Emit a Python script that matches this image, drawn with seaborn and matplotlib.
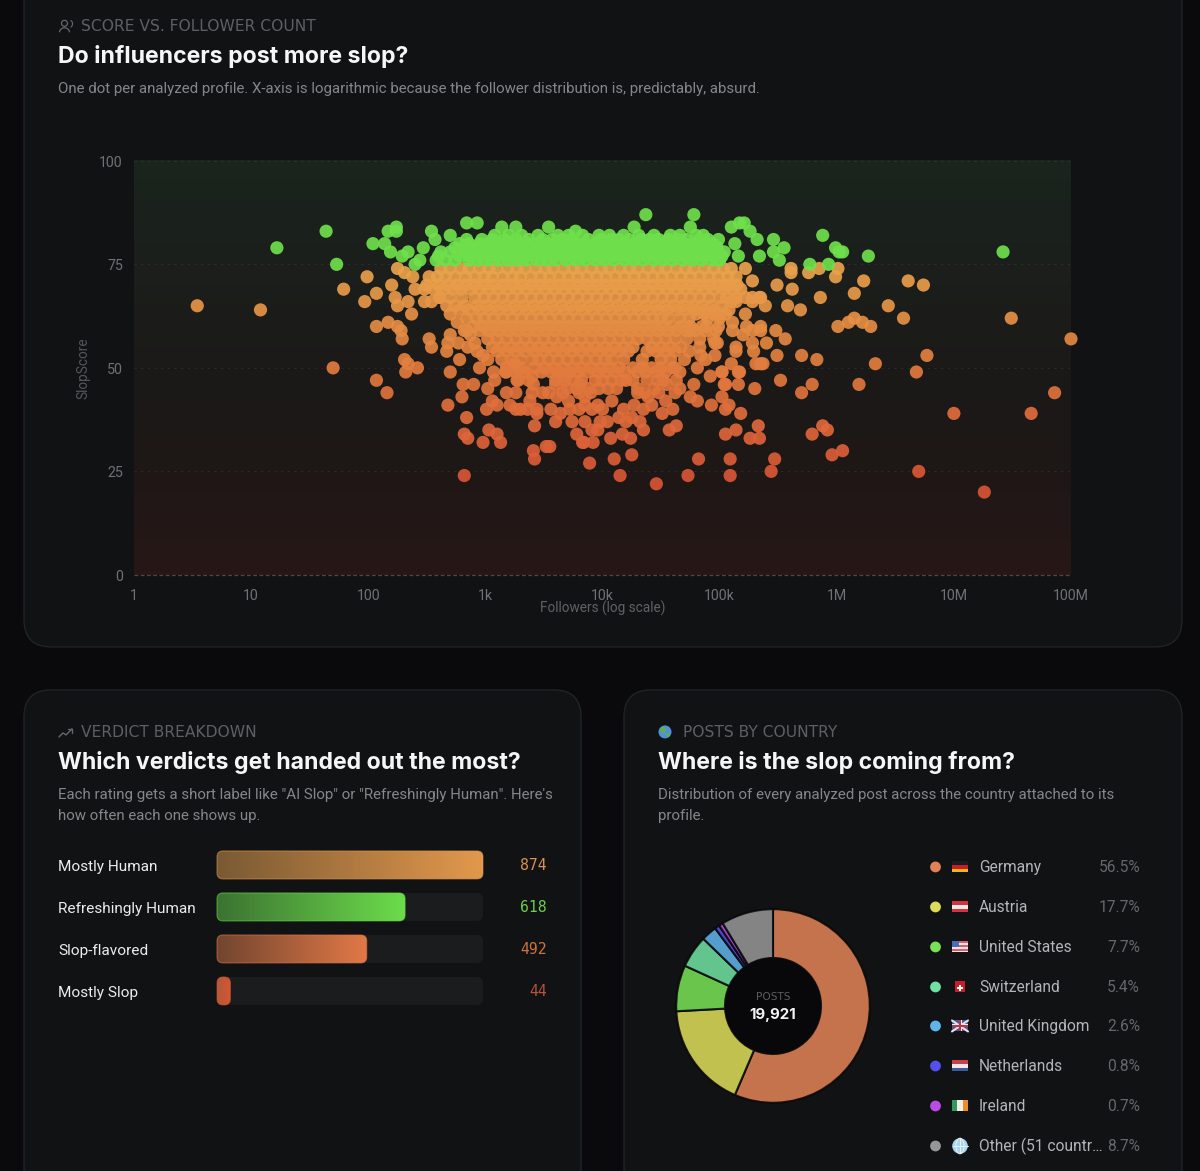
import numpy as np
import pandas as pd
import matplotlib
matplotlib.use("Agg")
import matplotlib.pyplot as plt
import seaborn as sns
from matplotlib.colors import LinearSegmentedColormap, to_rgb
from matplotlib.patches import Arc, Circle, FancyBboxPatch, Rectangle

# ---- scatter values: log10(followers) per score row ----
row_82 = [3.08, 3.20, 3.31, 3.45, 3.62, 3.71, 3.83, 3.97, 4.06, 4.18, 4.31, 4.44, 4.58, 4.66, 4.80]
row_81 = [2.84, 2.97, 3.06, 3.16, 3.26, 3.37, 3.49, 3.57, 3.66, 3.74, 3.88, 3.99, 4.08, 4.14, 4.23, 4.33, 4.40, 4.48,
          4.56, 4.64, 4.72, 4.83, 4.90]
row_80 = [2.78, 2.86, 2.95, 3.03, 3.12, 3.19, 3.28, 3.36, 3.44, 3.53, 3.61, 3.69, 3.78, 3.85, 3.94, 4.02, 4.11, 4.19,
          4.27, 4.36, 4.44, 4.52, 4.61, 4.69, 4.77, 4.86, 4.94]
row_79 = [2.74, 2.82, 2.90, 2.99, 3.07, 3.15, 3.23, 3.32, 3.40, 3.48, 3.57, 3.65, 3.73, 3.81, 3.90, 3.98, 4.06, 4.15,
          4.23, 4.32, 4.40, 4.48, 4.56, 4.65, 4.73, 4.81, 4.90, 4.98]
row_78 = [2.62, 2.70, 2.82, 2.90, 2.98, 3.06, 3.15, 3.23, 3.31, 3.40, 3.48, 3.56, 3.65, 3.73, 3.81, 3.90, 3.98, 4.06,
          4.15, 4.23, 4.31, 4.40, 4.48, 4.56, 4.65, 4.73, 4.81, 4.90, 4.98, 5.04]
row_77 = [2.60, 2.78, 2.86, 2.94, 3.02, 3.10, 3.19, 3.27, 3.35, 3.44, 3.52, 3.60, 3.69, 3.77, 3.85, 3.94, 4.02, 4.10,
          4.19, 4.27, 4.35, 4.44, 4.52, 4.60, 4.69, 4.77, 4.85, 4.94, 5.02]
row_76 = [2.58, 2.66, 2.74, 2.86, 2.94, 3.02, 3.11, 3.19, 3.27, 3.35, 3.44, 3.52, 3.60, 3.69, 3.77, 3.85, 3.94, 4.02,
          4.10, 4.19, 4.27, 4.35, 4.44, 4.52, 4.60, 4.69, 4.77, 4.85, 4.94, 5.00]
row_74 = [2.62, 2.70, 2.79, 2.86, 2.95, 3.03, 3.10, 3.19, 3.27, 3.34, 3.43, 3.51, 3.58, 3.67, 3.75, 3.82, 3.91, 3.99,
          4.06, 4.15, 4.23, 4.30, 4.39, 4.47, 4.54, 4.63, 4.71, 4.78, 4.87, 4.95, 5.03, 5.10]
row_72 = [2.52, 2.59, 2.66, 2.74, 2.83, 2.91, 2.99, 3.06, 3.15, 3.23, 3.30, 3.39, 3.47, 3.55, 3.63, 3.71, 3.79, 3.87,
          3.95, 4.03, 4.11, 4.19, 4.27, 4.35, 4.43, 4.51, 4.59, 4.67, 4.75, 4.83, 4.91, 4.99, 5.07, 5.14]
row_70 = [2.50, 2.60, 2.68, 2.76, 2.83, 2.91, 2.99, 3.07, 3.15, 3.23, 3.31, 3.39, 3.47, 3.55, 3.63, 3.71, 3.79, 3.87,
          3.95, 4.03, 4.11, 4.19, 4.27, 4.35, 4.43, 4.51, 4.59, 4.67, 4.75, 4.83, 4.91, 4.99, 5.08, 5.15]
row_69 = [2.48, 2.56, 2.64, 2.72, 2.79, 2.87, 2.95, 3.03, 3.11, 3.19, 3.27, 3.35, 3.43, 3.51, 3.59, 3.67, 3.75, 3.83,
          3.91, 3.99, 4.07, 4.15, 4.23, 4.31, 4.39, 4.47, 4.55, 4.63, 4.71, 4.79, 4.87, 4.95, 5.04, 5.11, 5.18]
row_67 = [2.61, 2.70, 2.80, 2.91, 2.99, 3.07, 3.15, 3.23, 3.31, 3.39, 3.47, 3.55, 3.63, 3.71, 3.79, 3.87, 3.95, 4.03,
          4.11, 4.19, 4.27, 4.35, 4.43, 4.51, 4.59, 4.67, 4.75, 4.83, 4.91, 5.00, 5.06, 5.14, 5.28]
row_65 = [2.74, 2.83, 2.93, 3.01, 3.09, 3.17, 3.25, 3.33, 3.41, 3.49, 3.57, 3.65, 3.73, 3.81, 3.89, 3.97, 4.05, 4.13,
          4.21, 4.29, 4.37, 4.45, 4.53, 4.61, 4.69, 4.77, 4.85, 4.93, 5.02]
row_64 = [2.78, 2.86, 2.95, 3.03, 3.11, 3.19, 3.27, 3.35, 3.43, 3.51, 3.59, 3.67, 3.75, 3.83, 3.91, 3.99, 4.07, 4.15,
          4.23, 4.31, 4.39, 4.47, 4.55, 4.63, 4.70, 4.78, 4.87, 4.96, 5.08]
row_62 = [2.84, 2.92, 2.99, 3.07, 3.15, 3.23, 3.31, 3.39, 3.47, 3.55, 3.63, 3.71, 3.79, 3.87, 3.95, 4.03, 4.11, 4.19,
          4.27, 4.35, 4.43, 4.50, 4.56, 4.66, 4.74, 4.90, 5.00]
row_60 = [2.90, 2.99, 3.07, 3.15, 3.23, 3.31, 3.39, 3.47, 3.55, 3.63, 3.71, 3.79, 3.87, 3.95, 4.03, 4.11, 4.19, 4.27,
          4.35, 4.43, 4.51, 4.59, 4.67, 4.75, 4.85]
row_59 = [2.95, 3.03, 3.11, 3.19, 3.27, 3.35, 3.43, 3.51, 3.59, 3.67, 3.75, 3.83, 3.91, 3.99, 4.07, 4.15, 4.23, 4.31,
          4.39, 4.47, 4.55, 4.63, 4.71, 4.79, 4.88, 4.97]
row_57 = [3.02, 3.10, 3.18, 3.26, 3.34, 3.42, 3.50, 3.58, 3.66, 3.74, 3.82, 3.90, 3.98, 4.06, 4.14, 4.22, 4.30, 4.38,
          4.46, 4.54, 4.62, 4.72, 4.83]
row_55 = [3.06, 3.14, 3.22, 3.30, 3.38, 3.46, 3.54, 3.62, 3.70, 3.78, 3.86, 3.94, 4.02, 4.10, 4.18, 4.26, 4.42, 4.50,
          4.58, 4.67]
row_54 = [3.10, 3.18, 3.26, 3.34, 3.42, 3.50, 3.59, 3.66, 3.74, 3.82, 3.90, 3.98, 4.06, 4.14, 4.22, 4.38, 4.46, 4.54,
          4.62, 4.74]
row_52 = [3.14, 3.22, 3.30, 3.40, 3.46, 3.54, 3.62, 3.70, 3.78, 3.86, 3.94, 4.02, 4.08, 4.18, 4.34, 4.50, 4.58, 4.70]
row_50 = [3.18, 3.26, 3.32, 3.42, 3.50, 3.58, 3.66, 3.74, 3.82, 3.90, 3.99, 4.07, 4.14, 4.26, 4.34, 4.42, 4.50, 4.62]
row_49 = [3.18, 3.26, 3.34, 3.48, 3.56, 3.63, 3.72, 3.80, 3.88, 3.96, 4.03, 4.11, 4.19, 4.30, 4.37, 4.46, 4.54, 4.66]
row_47 = [3.28, 3.37, 3.60, 3.68, 3.75, 3.82, 3.94, 4.00, 4.08, 4.16, 4.26, 4.38, 4.47, 4.52, 4.63]
row_45 = [3.78, 3.88, 3.97, 4.05, 4.12, 4.30, 4.44]
row_44 = [3.26, 3.40, 3.54, 3.66, 3.80, 3.90, 4.36, 4.48, 4.62]
row_40 = [3.26, 3.30, 3.44, 3.56, 3.80, 4.00, 4.18, 4.35, 4.60]
row_37 = [3.60, 3.85, 4.04, 4.20, 4.32]

score_rows = {82: row_82, 81: row_81, 80: row_80, 79: row_79, 78: row_78, 77: row_77, 76: row_76, 74: row_74,
              72: row_72, 70: row_70, 69: row_69, 67: row_67, 65: row_65, 64: row_64, 62: row_62, 60: row_60,
              59: row_59, 57: row_57, 55: row_55, 54: row_54, 52: row_52, 50: row_50, 49: row_49, 47: row_47,
              45: row_45, 44: row_44, 40: row_40, 37: row_37}

# single dots around the dense part: (log10 followers, score)
green_dots = [(1.22, 79), (1.64, 83), (1.73, 75), (2.04, 80), (2.14, 80), (2.17, 83), (2.24, 84), (2.24, 83),
              (2.19, 78), (2.29, 77), (2.34, 78), (2.47, 79), (2.44, 76), (2.40, 75), (2.54, 83), (2.57, 81),
              (2.70, 82), (2.84, 85), (2.93, 85), (3.14, 84), (3.26, 84), (3.54, 84), (3.77, 83), (4.37, 87),
              (4.78, 87), (4.27, 84), (4.75, 84), (4.86, 82), (4.99, 81), (5.10, 84), (5.17, 85), (5.21, 85),
              (5.26, 83), (5.32, 81), (5.13, 80), (5.16, 77), (5.34, 77), (5.46, 81), (5.46, 78), (5.55, 79),
              (5.51, 76), (5.77, 75), (5.93, 75), (5.88, 82), (5.99, 79), (6.05, 78), (6.02, 78), (6.27, 77),
              (7.42, 78)]
warm_dots = [(0.54, 65), (1.08, 64), (1.79, 69), (1.99, 72), (2.20, 70), (2.07, 68), (1.97, 66), (2.23, 67),
             (2.34, 66), (2.25, 65), (2.37, 63), (2.25, 74), (2.31, 73), (2.38, 72), (2.40, 69), (2.48, 66),
             (2.54, 66), (2.61, 67), (2.07, 60), (2.17, 61), (2.25, 60), (2.28, 59), (2.29, 57), (2.52, 57),
             (2.54, 55), (2.70, 58), (2.67, 54), (2.68, 56), (2.78, 52), (2.70, 49), (1.70, 50), (2.31, 52),
             (2.34, 51), (2.42, 50), (2.32, 49), (2.07, 47), (2.16, 44), (2.68, 41), (2.81, 46), (2.90, 46),
             (2.80, 43), (3.02, 45), (2.84, 38), (2.82, 34), (2.85, 33), (3.03, 35), (3.10, 34), (3.13, 32),
             (2.98, 32), (2.82, 24), (3.41, 30), (3.42, 28), (3.52, 31), (3.89, 27), (3.42, 36), (3.44, 39),
             (3.78, 34), (3.74, 37), (3.83, 32), (3.92, 32), (3.01, 40), (3.06, 42), (3.10, 41), (3.18, 44),
             (3.21, 41), (3.36, 40), (3.38, 42), (3.49, 44), (3.61, 43), (3.71, 42), (3.72, 40), (3.64, 39),
             (3.85, 43), (3.91, 40), (3.96, 35), (5.22, 74), (5.28, 71), (5.49, 70), (5.61, 74), (5.61, 73),
             (5.76, 73), (5.85, 74), (6.01, 74), (5.99, 72), (5.62, 69), (5.86, 67), (6.23, 71), (6.15, 68),
             (6.61, 71), (6.74, 70), (6.44, 65), (6.57, 62), (7.49, 62), (8.00, 57), (5.58, 65), (5.69, 64),
             (5.39, 65), (5.34, 67), (5.22, 63), (6.01, 60), (6.10, 61), (6.15, 62), (6.22, 61), (6.29, 60),
             (5.48, 59), (5.56, 57), (5.49, 53), (5.70, 53), (5.83, 52), (5.35, 60), (5.40, 56), (5.23, 60),
             (6.33, 51), (6.77, 53), (6.68, 49), (6.19, 46), (5.79, 46), (5.70, 44), (5.52, 47), (5.30, 45),
             (7.86, 44), (7.66, 39), (7.00, 39), (5.88, 36), (5.92, 35), (5.79, 34), (6.05, 30), (5.96, 29),
             (5.33, 36), (5.26, 33), (5.34, 33), (5.05, 34), (5.14, 35), (5.18, 39), (5.47, 28), (5.44, 25),
             (5.09, 28), (5.09, 24), (4.82, 28), (4.73, 24), (4.46, 22), (4.15, 24), (4.10, 28), (4.25, 29),
             (6.70, 25), (7.26, 20), (4.63, 36), (4.57, 35), (4.35, 35), (4.24, 33), (4.17, 34), (4.07, 33),
             (3.84, 32), (3.98, 37), (3.91, 35), (4.81, 42), (4.93, 41), (5.02, 43), (5.08, 41), (5.05, 40),
             (5.16, 46), (5.04, 46), (5.16, 49), (5.02, 49), (5.10, 51), (4.51, 39), (4.25, 38), (4.14, 38),
             (4.54, 42), (4.42, 41), (4.39, 43), (4.30, 44), (4.27, 41), (4.08, 42), (3.96, 41), (3.85, 41),
             (4.55, 46), (4.66, 45), (4.78, 46), (4.75, 43), (4.81, 50), (4.96, 53), (5.14, 55), (5.29, 54),
             (5.35, 51), (4.96, 56), (5.11, 59), (3.55, 31), (3.67, 48), (4.20, 47), (4.60, 50)]
# the blobs on the right and left flanks of the cloud
right_blob = [(4.87, 63), (4.95, 63), (5.05, 63), (5.11, 61), (4.89, 60), (4.99, 60), (4.95, 57), (4.98, 56),
              (5.14, 54), (5.28, 56), (5.31, 51), (5.37, 51), (5.35, 59), (5.28, 59), (5.02, 49), (5.17, 49),
              (4.84, 53), (4.83, 55), (4.75, 59), (4.80, 63), (4.99, 63), (5.05, 70), (5.14, 66), (5.22, 67),
              (5.28, 66), (5.35, 67), (5.10, 66), (5.05, 46), (4.88, 52), (4.92, 48), (5.20, 58)]
left_blob = [(2.85, 55), (2.93, 54), (2.95, 50), (3.07, 49), (3.17, 49), (3.25, 51), (2.98, 53), (2.77, 56),
             (2.91, 56), (3.27, 47), (3.40, 48), (3.41, 46), (3.60, 46), (3.70, 45), (3.81, 46), (2.67, 65),
             (2.70, 63), (2.76, 61), (2.82, 59), (2.87, 58), (2.84, 59), (3.02, 52), (3.08, 47)]

# ---- bars ----
verdict_names = ["Mostly Human", "Refreshingly Human", "Slop-flavored", "Mostly Slop"]
verdict_counts = [874, 618, 492, 44]
verdict_left = ["#7a5a34", "#3c7332", "#734630", "#b45a37"]
verdict_right = ["#e2984c", "#6cdc4b", "#e17846", "#d75532"]
verdict_text = ["#d9934c", "#6bd14a", "#d07240", "#b5533a"]

# ---- donut ----
country_names = ["Germany", "Austria", "United States", "Switzerland", "United Kingdom", "Netherlands", "Ireland",
                 "Other (51 countr\u2026"]
country_share = [56.5, 17.7, 7.7, 5.4, 2.6, 0.8, 0.7, 8.7]
country_colors = ["#e08255", "#dcdc5a", "#78e155", "#6ee1a0", "#5fb4eb", "#5550eb", "#b94be6", "#969696"]
total_posts = "19,921"

# ---- chart text ----
x_ticks = [1, 10, 100, 1e3, 1e4, 1e5, 1e6, 1e7, 1e8]
x_labels = ["1", "10", "100", "1k", "10k", "100k", "1M", "10M", "100M"]
y_ticks = [0, 25, 50, 75, 100]

PAGE = "#0a0a0c"
CARD = "#111214"
BORDER = "#222326"
W, H = 1200, 1171
HEAD = ["Inter", "DejaVu Sans"]
BODY = ["Roboto", "DejaVu Sans"]

sns.set_theme(style="white")
plt.rcParams["font.family"] = BODY
plt.rcParams["axes.unicode_minus"] = False

fig = plt.figure(figsize=(W / 100, 11.712), dpi=100, facecolor=PAGE)


def axes_px(x0, y0, x1, y1, **kw):
    # axes from picture pixels, y counted from the top
    return fig.add_axes([x0 / W, 1 - y1 / H, (x1 - x0) / W, (y1 - y0) / H], **kw)


bg = axes_px(0, 0, W, H)
bg.set_xlim(0, W)
bg.set_ylim(H, 0)
bg.axis("off")
bg.set_autoscale_on(False)


def card(x0, y0, x1, y1):
    bg.add_patch(FancyBboxPatch((x0, y0), x1 - x0, y1 - y0, boxstyle="round,pad=0,rounding_size=27",
                                fc=CARD, ec=BORDER, lw=1))


def gradient_box(x0, y0, x1, y1, left, right, radius, edge=None):
    n = 64
    ramp = np.linspace(0, 1, n)[:, None]
    img = (1 - ramp) * np.array(to_rgb(left)) + ramp * np.array(to_rgb(right))
    im = bg.imshow(img[None, :, :], extent=(x0, x1, y1, y0), aspect="auto", zorder=3, interpolation="bilinear")
    clip = FancyBboxPatch((x0, y0), x1 - x0, y1 - y0, boxstyle=f"round,pad=0,rounding_size={radius}",
                          fc="none", ec=edge if edge else "none", lw=0.8, zorder=4, alpha=0.55)
    bg.add_patch(clip)
    im.set_clip_path(clip)


def heading(x, y, icon_gap, eyebrow, title, lines, title_size):
    bg.text(x + icon_gap, y + 0.5, eyebrow, color="#5e5f63", fontsize=11.2, family=["DejaVu Sans"], va="center")
    bg.text(x, y + 30.5, title, color="#f6f6f7", fontsize=title_size, family=HEAD, weight="bold", va="center")
    for i, line in enumerate(lines):
        bg.text(x, y + 62.5 + i * 21, line, color="#85868a", fontsize=10.85, va="center")


card(24, -40, 1182, 647)
card(24, 690, 581, 1230)
card(624, 690, 1182, 1230)

heading(58, 26, 23, "SCORE VS. FOLLOWER COUNT", "Do influencers post more slop?",
        ["One dot per analyzed profile. X-axis is logarithmic because the follower distribution is, predictably, absurd."],
        16.6)
heading(58, 732, 23, "VERDICT BREAKDOWN", "Which verdicts get handed out the most?",
        ['Each rating gets a short label like "AI Slop" or "Refreshingly Human". Here\'s',
         "how often each one shows up."], 16.6)
heading(658, 732, 25, "POSTS BY COUNTRY", "Where is the slop coming from?",
        ["Distribution of every analyzed post across the country attached to its", "profile."], 16.6)

# small icons in the headings
ic = "#66676b"
bg.add_patch(Circle((64.5, 23.5), 3, fc="none", ec=ic, lw=0.9))
bg.add_patch(Arc((64.5, 32.5), 10, 9, theta1=180, theta2=360, ec=ic, lw=0.9))
bg.add_patch(Arc((70, 24), 5, 7, theta1=-80, theta2=80, ec=ic, lw=0.8))
bg.plot([59, 63, 66, 72], [737, 733, 735, 729], color=ic, lw=1)
bg.plot([68, 72, 72], [729, 729, 733], color=ic, lw=1)
bg.add_patch(Circle((665, 732), 6.5, fc="#4f93d6", ec="none"))
bg.add_patch(Circle((663, 730), 3, fc="#5fae55", ec="none"))
bg.add_patch(Circle((668, 735), 2, fc="#5fae55", ec="none"))

# ---- scatter ----
plot_box = (134, 161, 1071, 575)
top_tint = np.array([[26, 36, 29], [27, 31, 27], [27, 26, 24], [30, 23, 22], [39, 23, 23]]) / 255
ramp = np.linspace(0, 1, 120)
tint = np.stack([np.interp(ramp, np.linspace(0, 1, 5), top_tint[:, c]) for c in range(3)], axis=1)
bg.imshow(tint[:, None, :], extent=(plot_box[0], plot_box[2], plot_box[3], plot_box[1]), aspect="auto", zorder=1)

records = []
for score, logs in score_rows.items():
    records += [(v, score) for v in logs]
records += green_dots + warm_dots + right_blob + left_blob
profiles = pd.DataFrame(records, columns=["log_followers", "score"])
profiles["followers"] = 10 ** profiles["log_followers"]
profiles = profiles.sort_values("score", kind="stable")

score_map = LinearSegmentedColormap.from_list("slop", [(0, "#cc4a30"), (0.24, "#da5636"), (0.5, "#e27c3e"),
                                                       (0.7449, "#eaa44c"), (0.745, "#6fe04c"), (1, "#6fe04c")])

ax = axes_px(*plot_box)
ax.patch.set_alpha(0)
ax.set_xscale("log")
sns.scatterplot(data=profiles, x="followers", y="score", hue="score", hue_norm=(0, 100), palette=score_map,
                s=90, alpha=0.92, linewidth=0, legend=False, clip_on=False, zorder=3, ax=ax)
ax.set_xlim(1, 1e8)
ax.set_ylim(0, 100)
ax.set_xticks(x_ticks)
ax.set_xticklabels(x_labels)
ax.xaxis.set_minor_locator(matplotlib.ticker.NullLocator())
ax.set_yticks(y_ticks)
ax.tick_params(length=0, labelsize=10.2, labelcolor="#707175", pad=8)
ax.tick_params(axis="x", pad=10)
ax.grid(axis="y", color="#ffffff", alpha=0.07, lw=0.8, ls=(0, (2, 4)), zorder=1)
ax.axhline(0, color="#5a4442", lw=0.9, ls=(0, (3, 2)), clip_on=False, zorder=2)
sns.despine(ax=ax, left=True, bottom=True)
ax.set_xlabel("Followers (log scale)", color="#606165", fontsize=9.8, labelpad=-2)
ax.set_ylabel("SlopScore", color="#55565a", fontsize=9.8, labelpad=6)

# ---- bars ----
bar_ax = axes_px(217, 844, 483, 1012)
bar_ax.patch.set_alpha(0)
sns.barplot(x=verdict_counts, y=verdict_names, orient="h", width=28 / 42, ax=bar_ax, color="#333333", saturation=1)
bar_ax.set_xlim(0, max(verdict_counts))
bar_ax.set_ylim(3.5, -0.5)
bar_ax.set_xticks([])
bar_ax.set_xlabel("")
bar_ax.set_ylabel("")
sns.despine(ax=bar_ax, left=True, bottom=True)
bar_ax.tick_params(axis="y", length=0, pad=(217 - 58) * 0.72, labelsize=11.1, labelcolor="#ececee")
for lab in bar_ax.get_yticklabels():
    lab.set_ha("left")
    lab.set_va("center_baseline")
to_px = bar_ax.transData + bg.transData.inverted()
for i, bar in enumerate(bar_ax.patches):
    (x0, y0), (x1, y1) = to_px.transform([(bar.get_x(), bar.get_y()), (bar.get_x() + bar.get_width(), bar.get_y() + bar.get_height())])
    top, bottom = min(y0, y1), max(y0, y1)
    bg.add_patch(FancyBboxPatch((217, top), 266, bottom - top, boxstyle="round,pad=0,rounding_size=6",
                                fc="#1b1c1e", ec="none", zorder=2))
    gradient_box(x0, top, x1, bottom, verdict_left[i], verdict_right[i], 6, edge=verdict_right[i])
    bar.set_visible(False)
    bar_ax.annotate(str(verdict_counts[i]), xy=(1, i), xycoords=bar_ax.get_yaxis_transform(),
                    xytext=((547 - 483) * 0.72, 0), textcoords="offset points", ha="right", va="center",
                    color=verdict_text[i], fontsize=10.6, family=["DejaVu Sans Mono"])

# ---- donut ----
pie_ax = axes_px(773 - 100, 1006 - 100, 773 + 100, 1006 + 100)
pie_ax.pie(country_share, colors=sns.color_palette(country_colors), startangle=90, counterclock=False, radius=0.968,
           wedgeprops=dict(width=0.488, edgecolor="#08080a", linewidth=1.5, alpha=0.87))
pie_ax.set_xlim(-1, 1)
pie_ax.set_ylim(-1, 1)
pie_ax.add_patch(Circle((0, 0), 0.48, fc="#08080a", ec="none", zorder=5))
pie_ax.text(0, 0.09, "POSTS", color="#5b5c60", fontsize=7.6, family=["DejaVu Sans"], ha="center", va="center", zorder=6)
pie_ax.text(0, -0.09, total_posts, color="#f2f2f3", fontsize=10.8, weight="bold", family=HEAD, ha="center", va="center", zorder=6)


def flag(name, cx, cy):
    w, h = 16, 11
    x0, y0 = cx - w / 2, cy - h / 2

    def rect(x, y, rw, rh, col):
        bg.add_patch(Rectangle((x0 + x, y0 + y), rw, rh, fc=col, ec="none", zorder=3))

    if name == "Germany":
        for k, col in enumerate(["#1c1c1c", "#c8202a", "#eeb71d"]):
            rect(0, k * h / 3, w, h / 3, col)
    elif name == "Austria":
        for k, col in enumerate(["#d3343c", "#f0e8e8", "#d3343c"]):
            rect(0, k * h / 3, w, h / 3, col)
    elif name == "United States":
        for k in range(6):
            rect(0, k * h / 6, w, h / 6, "#d9626a" if k % 2 == 0 else "#f0e4e6")
        rect(0, 0, 7, 5.5, "#4a6db5")
    elif name == "Switzerland":
        rect(3, 0, 10, h, "#c81e28")
        rect(6.8, 3.5, 2.4, 6, "#ffffff")
        rect(5, 5.3, 6, 2.4, "#ffffff")
    elif name == "United Kingdom":
        rect(0, 0, w, h, "#3e5aa0")
        bg.plot([x0, x0 + w], [y0, y0 + h], color="#e8e0e4", lw=1.5, zorder=3)
        bg.plot([x0, x0 + w], [y0 + h, y0], color="#e8e0e4", lw=1.5, zorder=3)
        rect(6.5, 0, 3, h, "#f0f0f0")
        rect(0, 4, w, 3, "#f0f0f0")
        rect(7.2, 0, 1.6, h, "#cc3040")
        rect(0, 4.7, w, 1.6, "#cc3040")
    elif name == "Netherlands":
        for k, col in enumerate(["#c8404a", "#f0e8e8", "#3a5a9c"]):
            rect(0, k * h / 3, w, h / 3, col)
    elif name == "Ireland":
        for k, col in enumerate(["#2f9a5c", "#f0efe6", "#ee8c2c"]):
            rect(k * w / 3, 0, w / 3, h, col)
    else:
        bg.add_patch(Circle((cx, cy), 7.8, fc="#a9d3ee", ec="none", zorder=3))
        bg.add_patch(Arc((cx, cy), 8, 15.6, ec="#e6f3fa", lw=0.7, zorder=4))
        bg.plot([cx - 7.5, cx + 7.5], [cy, cy], color="#e6f3fa", lw=0.7, zorder=4)
        bg.plot([cx, cx], [cy - 7.5, cy + 7.5], color="#e6f3fa", lw=0.7, zorder=4)


legend_y = [867, 907, 947, 987, 1026, 1066, 1106, 1146]
for name, share, col, y in zip(country_names, country_share, country_colors, legend_y):
    bg.add_patch(Circle((935.5, y), 5.4, fc=col, ec="none", zorder=3))
    flag(name, 960, y)
    bg.text(979, y, name, color="#b4b5b9", fontsize=11.2, va="center")
    bg.text(1140, y, f"{share}%", color="#66676b", fontsize=11.2, ha="right", va="center")

fig.savefig("out.png", dpi=100, facecolor=PAGE)
